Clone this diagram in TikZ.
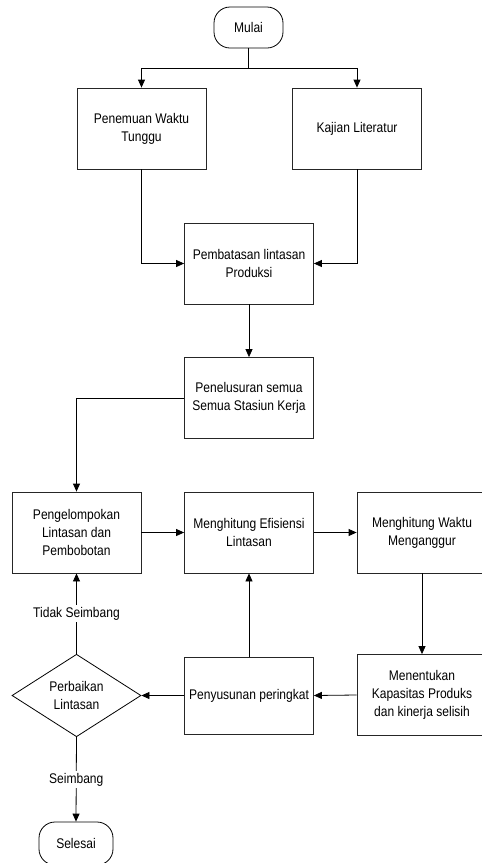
\documentclass[tikz,border=0pt]{standalone}
\usepackage{fontspec}
\setmainfont{Liberation Sans}[FakeStretch=0.86]
\usetikzlibrary{arrows.meta}
\usetikzlibrary{shapes.geometric}
\tikzstyle{every node}=[font=\fontsize{14}{18}\selectfont, align=center, inner sep=0pt]
\tikzstyle{proses}=[rectangle, draw=black!85, line width=0.8pt, minimum width=129pt, minimum height=81pt]
\tikzstyle{terminal}=[rectangle, draw, line width=0.8pt, rounded corners=16pt, minimum height=41pt]
\tikzstyle{keputusan}=[diamond, draw, line width=0.8pt, minimum width=129pt, minimum height=81pt]
\tikzstyle{ket}=[fill=white, inner sep=2pt]
\tikzset{panah/.style={-{Triangle[length=8pt,width=7pt]}, line width=0.8pt}}

\begin{document}
\begin{tikzpicture}[x=1pt, y=-1pt]
		\useasboundingbox (0,0) rectangle (482,863);
		% bagian atas
		\node[terminal, minimum width=69pt] (mulai) at (248.5,27.5) {Mulai};
		\node[proses] (penemuan) at (141.5,128.5) {Penemuan Waktu\\Tunggu};
		\node[proses] (kajian) at (357,128.5) {Kajian Literatur};
		\node[proses] (pembatasan) at (249,263.5) {Pembatasan lintasan\\Produksi};
		\node[proses] (penelusuran) at (249,398) {Penelusuran semua\\Semua Stasiun Kerja};
		% bagian tengah
		\node[proses] (pengelompokan) at (76.5,532.5) {Pengelompokan\\Lintasan dan\\Pembobotan};
		\node[proses] (efisiensi) at (249,532.5) {Menghitung Efisiensi\\Lintasan};
		\node[proses, minimum width=130pt] (waktu) at (422,532.5) {Menghitung Waktu\\Menganggur};
		% bagian bawah
		\node[proses, minimum width=130pt] (menentukan) at (422,695) {Menentukan\\Kapasitas Produks\\dan kinerja selisih};
		\node[proses, minimum height=77pt] (penyusunan) at (249,695.5) {Penyusunan peringkat};
		\node[keputusan] (perbaikan) at (76.5,695.5) {Perbaikan\\Lintasan};
		\node[terminal, minimum width=74pt, minimum height=43pt] (selesai) at (76,843.5) {Selesai};
		\coordinate (cabang) at (248.5,68);
		% panah
		\draw[line width=0.8pt] (mulai.south) -- (cabang);
		\draw[panah] (cabang) -| (penemuan.north);
		\draw[panah] (cabang) -| (kajian.north);
		\draw[panah] (penemuan.south) |- (pembatasan.west);
		\draw[panah] (kajian.south) |- (pembatasan.east);
		\draw[panah] (pembatasan) -- (penelusuran);
		\draw[panah] (penelusuran.west) -| (pengelompokan.north);
		\draw[panah] (pengelompokan) -- (efisiensi);
		\draw[panah] (efisiensi) -- (waktu);
		\draw[panah] (waktu.south) -- (menentukan.north);
		\draw[panah] (menentukan.west) -- (penyusunan.east);
		\draw[panah] (penyusunan) -- (efisiensi);
		\draw[panah] (penyusunan) -- (perbaikan);
		\draw[panah] (perbaikan.north) -- node[ket]{Tidak Seimbang} (pengelompokan.south);
		\draw[panah] (perbaikan.south) -- node[ket]{Seimbang} (selesai.north);
		\end{tikzpicture}
\end{document}
